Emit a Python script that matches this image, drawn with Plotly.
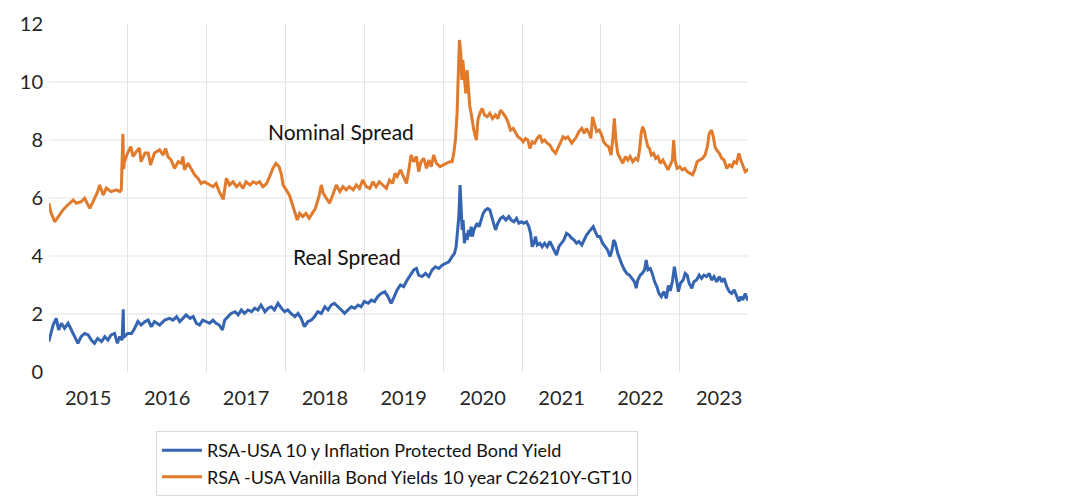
import plotly.graph_objects as go
import pandas as pd

# readings taken off the chart, time in decimal years
real_t = [2015.00, 2015.025, 2015.055, 2015.095, 2015.125, 2015.16, 2015.20, 2015.245, 2015.285, 2015.33,
          2015.37, 2015.41, 2015.455, 2015.50, 2015.54, 2015.58, 2015.62, 2015.67, 2015.71, 2015.75,
          2015.79, 2015.835, 2015.87, 2015.90, 2015.93, 2015.945, 2015.95, 2015.96, 2016.00, 2016.05,
          2016.09, 2016.13, 2016.17, 2016.22, 2016.26, 2016.30, 2016.34, 2016.405, 2016.47, 2016.53,
          2016.575, 2016.62, 2016.66, 2016.70, 2016.74, 2016.79, 2016.83, 2016.87, 2016.91, 2016.95,
          2016.99, 2017.04, 2017.08, 2017.12, 2017.16, 2017.20, 2017.23, 2017.27, 2017.31, 2017.36,
          2017.40, 2017.44, 2017.48, 2017.525, 2017.57, 2017.61, 2017.65, 2017.69, 2017.74, 2017.78,
          2017.82, 2017.86, 2017.905, 2017.95, 2017.99, 2018.03, 2018.07, 2018.12, 2018.16, 2018.20,
          2018.24, 2018.285, 2018.33, 2018.37, 2018.41, 2018.455, 2018.50, 2018.54, 2018.58, 2018.62,
          2018.67, 2018.71, 2018.75, 2018.79, 2018.835, 2018.88, 2018.92, 2018.96, 2019.00, 2019.05,
          2019.09, 2019.13, 2019.17, 2019.215, 2019.26, 2019.30, 2019.34, 2019.38, 2019.417, 2019.459,
          2019.50, 2019.544, 2019.586, 2019.628, 2019.662, 2019.69, 2019.734, 2019.776, 2019.818, 2019.861,
          2019.903, 2019.945, 2019.987, 2020.03, 2020.072, 2020.114, 2020.144, 2020.165, 2020.186, 2020.199,
          2020.215, 2020.228, 2020.241, 2020.253, 2020.27, 2020.287, 2020.304, 2020.321, 2020.338, 2020.355,
          2020.372, 2020.389, 2020.41, 2020.431, 2020.456, 2020.482, 2020.507, 2020.537, 2020.566, 2020.591,
          2020.608, 2020.634, 2020.663, 2020.693, 2020.727, 2020.76, 2020.794, 2020.832, 2020.862, 2020.896,
          2020.929, 2020.959, 2020.993, 2021.022, 2021.056, 2021.086, 2021.107, 2021.128, 2021.149, 2021.17,
          2021.191, 2021.225, 2021.255, 2021.284, 2021.318, 2021.352, 2021.381, 2021.411, 2021.436, 2021.466,
          2021.496, 2021.529, 2021.563, 2021.596, 2021.63, 2021.66, 2021.69, 2021.72, 2021.757, 2021.787,
          2021.817, 2021.85, 2021.877, 2021.902, 2021.928, 2021.957, 2021.987, 2022.021, 2022.055, 2022.085,
          2022.115, 2022.14, 2022.162, 2022.183, 2022.213, 2022.243, 2022.268, 2022.298, 2022.328, 2022.362,
          2022.396, 2022.426, 2022.447, 2022.468, 2022.498, 2022.523, 2022.553, 2022.574, 2022.596, 2022.626,
          2022.651, 2022.681, 2022.71, 2022.736, 2022.766, 2022.796, 2022.83, 2022.855, 2022.88, 2022.906,
          2022.932, 2022.957, 2022.983, 2023.009, 2023.043, 2023.068, 2023.094, 2023.119, 2023.153, 2023.179,
          2023.213, 2023.247, 2023.277, 2023.306, 2023.34, 2023.374, 2023.404, 2023.434, 2023.468, 2023.502,
          2023.532, 2023.562, 2023.596, 2023.63, 2023.66, 2023.69, 2023.72, 2023.75, 2023.774, 2023.80,
          2023.83, 2023.86, 2023.885]
real_v = [1.05, 1.33, 1.62, 1.85, 1.45, 1.68, 1.51, 1.68, 1.45, 1.22,
          0.99, 1.22, 1.33, 1.28, 1.10, 0.99, 1.16, 1.05, 1.22, 1.10,
          1.28, 1.33, 0.99, 1.22, 1.10, 2.16, 1.20, 1.22, 1.33, 1.33,
          1.51, 1.74, 1.62, 1.74, 1.79, 1.56, 1.74, 1.62, 1.79, 1.85,
          1.79, 1.91, 1.74, 1.85, 1.97, 1.85, 1.91, 1.68, 1.62, 1.79,
          1.74, 1.68, 1.79, 1.68, 1.62, 1.45, 1.79, 1.91, 2.02, 2.08,
          1.97, 2.14, 2.02, 2.14, 2.08, 2.20, 2.14, 2.31, 2.08, 2.20,
          2.25, 2.14, 2.37, 2.20, 2.08, 2.14, 2.02, 1.91, 2.02, 1.85,
          1.56, 1.74, 1.79, 1.91, 2.08, 2.02, 2.25, 2.14, 2.31, 2.37,
          2.25, 2.14, 2.02, 2.14, 2.25, 2.20, 2.31, 2.25, 2.43, 2.37,
          2.48, 2.43, 2.60, 2.71, 2.77, 2.60, 2.37, 2.60, 2.83, 3.00,
          2.94, 3.17, 3.34, 3.52, 3.57, 3.34, 3.29, 3.40, 3.29, 3.52,
          3.63, 3.57, 3.68, 3.75, 3.80, 3.98, 4.09, 4.32, 4.90, 5.36,
          6.45, 5.59, 4.90, 5.24, 4.44, 4.78, 4.55, 4.90, 4.67, 5.01,
          4.67, 4.90, 5.01, 5.13, 5.01, 5.30, 5.47, 5.59, 5.64, 5.59,
          5.42, 5.13, 4.90, 5.13, 5.30, 5.36, 5.24, 5.36, 5.24, 5.18,
          5.30, 5.13, 5.18, 5.13, 5.18, 5.01, 4.78, 4.32, 4.44, 4.67,
          4.38, 4.44, 4.32, 4.44, 4.32, 4.50, 4.32, 4.15, 4.03, 4.32,
          4.44, 4.55, 4.78, 4.72, 4.61, 4.55, 4.44, 4.50, 4.38, 4.55,
          4.72, 4.84, 4.95, 5.01, 4.84, 4.67, 4.67, 4.44, 4.32, 4.20,
          3.98, 4.20, 4.55, 4.44, 4.09, 3.86, 3.69, 3.52, 3.40, 3.34,
          3.23, 3.11, 2.89, 3.17, 3.34, 3.40, 3.52, 3.86, 3.52, 3.57,
          3.40, 3.11, 2.94, 2.71, 2.60, 2.77, 2.54, 2.98, 2.80, 3.11,
          3.63, 3.17, 2.77, 3.06, 3.17, 3.40, 3.34, 3.06, 2.89, 3.11,
          3.17, 3.34, 3.23, 3.34, 3.29, 3.40, 3.17, 3.29, 3.11, 3.29,
          3.11, 3.23, 2.94, 2.77, 2.71, 2.83, 2.60, 2.43, 2.60, 2.48,
          2.71, 2.48, 2.60]

nominal_t = [2015.00, 2015.03, 2015.075, 2015.12, 2015.18, 2015.24, 2015.31, 2015.35, 2015.41, 2015.455,
             2015.52, 2015.56, 2015.62, 2015.645, 2015.69, 2015.73, 2015.79, 2015.86, 2015.90, 2015.92,
             2015.93, 2015.94, 2015.95, 2015.96, 2016.00, 2016.04, 2016.07, 2016.11, 2016.15, 2016.17,
             2016.22, 2016.26, 2016.29, 2016.34, 2016.405, 2016.45, 2016.48, 2016.51, 2016.55, 2016.595,
             2016.64, 2016.68, 2016.70, 2016.72, 2016.765, 2016.81, 2016.85, 2016.89, 2016.93, 2016.97,
             2017.04, 2017.08, 2017.12, 2017.16, 2017.21, 2017.25, 2017.29, 2017.335, 2017.38, 2017.42,
             2017.46, 2017.50, 2017.55, 2017.59, 2017.63, 2017.67, 2017.715, 2017.76, 2017.80, 2017.84,
             2017.88, 2017.92, 2017.95, 2017.97, 2018.01, 2018.05, 2018.09, 2018.12, 2018.15, 2018.18,
             2018.22, 2018.26, 2018.30, 2018.34, 2018.38, 2018.425, 2018.455, 2018.48, 2018.52, 2018.56,
             2018.60, 2018.645, 2018.69, 2018.73, 2018.77, 2018.81, 2018.86, 2018.90, 2018.94, 2018.98,
             2019.025, 2019.07, 2019.11, 2019.15, 2019.19, 2019.24, 2019.28, 2019.32, 2019.36, 2019.39,
             2019.417, 2019.459, 2019.50, 2019.535, 2019.565, 2019.594, 2019.628, 2019.662, 2019.69, 2019.72,
             2019.755, 2019.79, 2019.82, 2019.85, 2019.88, 2019.915, 2019.96, 2020.00, 2020.04, 2020.085,
             2020.114, 2020.135, 2020.156, 2020.177, 2020.194, 2020.207, 2020.224, 2020.237, 2020.249, 2020.27,
             2020.287, 2020.304, 2020.321, 2020.338, 2020.355, 2020.372, 2020.389, 2020.41, 2020.422, 2020.44,
             2020.465, 2020.494, 2020.524, 2020.558, 2020.59, 2020.625, 2020.663, 2020.693, 2020.727, 2020.76,
             2020.79, 2020.82, 2020.853, 2020.887, 2020.917, 2020.946, 2020.98, 2021.014, 2021.043, 2021.073,
             2021.098, 2021.128, 2021.158, 2021.19, 2021.225, 2021.255, 2021.284, 2021.318, 2021.352, 2021.386,
             2021.424, 2021.453, 2021.487, 2021.52, 2021.55, 2021.58, 2021.63, 2021.66, 2021.69, 2021.72,
             2021.757, 2021.787, 2021.817, 2021.85, 2021.872, 2021.894, 2021.915, 2021.945, 2021.979, 2022.009,
             2022.034, 2022.064, 2022.098, 2022.128, 2022.149, 2022.17, 2022.19, 2022.213, 2022.243, 2022.277,
             2022.31, 2022.34, 2022.37, 2022.404, 2022.438, 2022.468, 2022.49, 2022.51, 2022.53, 2022.553,
             2022.574, 2022.596, 2022.617, 2022.638, 2022.668, 2022.694, 2022.723, 2022.753, 2022.787, 2022.82,
             2022.851, 2022.88, 2022.906, 2022.923, 2022.94, 2022.966, 2023.00, 2023.034, 2023.064, 2023.094,
             2023.128, 2023.162, 2023.19, 2023.22, 2023.255, 2023.29, 2023.32, 2023.35, 2023.374, 2023.404,
             2023.426, 2023.447, 2023.468, 2023.502, 2023.532, 2023.562, 2023.596, 2023.63, 2023.66, 2023.69,
             2023.72, 2023.75, 2023.774, 2023.80, 2023.83, 2023.86, 2023.885]
nominal_v = [5.82, 5.48, 5.18, 5.36, 5.59, 5.76, 5.93, 5.82, 5.87, 5.99,
             5.64, 5.87, 6.22, 6.45, 6.10, 6.34, 6.22, 6.28, 6.22, 6.28,
             6.97, 8.21, 7.00, 7.25, 7.55, 7.77, 7.43, 7.60, 7.72, 7.25,
             7.55, 7.55, 7.14, 7.55, 7.66, 7.48, 7.71, 7.43, 7.31, 7.02,
             7.25, 7.20, 7.43, 6.97, 7.20, 6.97, 6.79, 6.68, 6.50, 6.56,
             6.45, 6.39, 6.50, 6.22, 5.95, 6.68, 6.45, 6.56, 6.39, 6.50,
             6.33, 6.56, 6.45, 6.56, 6.50, 6.56, 6.39, 6.50, 6.74, 7.02,
             7.19, 7.08, 6.79, 6.45, 6.28, 6.10, 5.76, 5.47, 5.24, 5.47,
             5.36, 5.47, 5.30, 5.47, 5.64, 6.05, 6.45, 6.16, 5.99, 5.82,
             6.10, 6.45, 6.22, 6.39, 6.28, 6.39, 6.28, 6.45, 6.33, 6.62,
             6.39, 6.33, 6.56, 6.39, 6.56, 6.45, 6.33, 6.62, 6.50, 6.85,
             6.74, 6.97, 6.68, 6.50, 6.97, 7.48, 7.25, 7.43, 6.91, 7.25,
             7.37, 7.02, 7.31, 7.08, 7.48, 7.20, 7.08, 7.14, 7.20, 7.25,
             7.25, 7.54, 8.00, 8.92, 10.41, 11.45, 10.99, 10.07, 10.76, 10.07,
             9.61, 10.41, 9.72, 9.15, 8.92, 8.58, 8.34, 8.11, 8.00, 8.69,
             8.92, 9.09, 8.86, 8.80, 8.92, 8.74, 8.86, 8.74, 9.03, 8.92,
             8.80, 8.63, 8.34, 8.40, 8.23, 8.11, 8.05, 7.94, 8.05, 8.00,
             7.71, 7.94, 7.89, 8.05, 8.17, 7.94, 8.00, 7.89, 7.83, 7.66,
             7.54, 7.71, 7.94, 8.11, 8.05, 8.11, 7.89, 8.00, 8.11, 8.29,
             8.40, 8.23, 8.40, 8.23, 8.06, 8.80, 8.57, 8.29, 8.34, 8.17,
             7.94, 7.83, 7.77, 7.48, 8.00, 8.75, 8.00, 7.54, 7.37, 7.20,
             7.43, 7.31, 7.43, 7.25, 7.37, 7.31, 7.66, 8.23, 8.46, 8.29,
             8.00, 7.77, 7.71, 7.48, 7.54, 7.37, 7.43, 7.20, 7.31, 7.14,
             6.97, 7.14, 7.31, 8.00, 7.31, 7.02, 7.08, 6.97, 7.02, 6.91,
             6.85, 6.80, 6.97, 7.25, 7.31, 7.37, 7.48, 7.77, 8.23, 8.34,
             8.11, 7.77, 7.66, 7.54, 7.37, 7.31, 7.02, 7.14, 7.08, 7.25,
             7.20, 7.54, 7.31, 7.14, 6.91, 6.97, 7.02]

labels = ['RSA-USA 10 y Inflation Protected Bond Yield',
          'RSA -USA Vanilla Bond Yields 10 year C26210Y-GT10']
colors = ['#3564b0', '#e07a2c']
font_name = 'Lato, Open Sans, sans-serif'


def to_date(t):
    y = int(t)
    start = pd.Timestamp(y, 1, 1)
    days = (pd.Timestamp(y + 1, 1, 1) - start).days
    return start + pd.Timedelta(days=(t - y) * days)


real_x = [to_date(t) for t in real_t]
nominal_x = [to_date(t) for t in nominal_t]

fig = go.Figure()
fig.add_trace(go.Scatter(x=real_x, y=real_v, mode='lines', name=labels[0],
                         line=dict(color=colors[0], width=3)))
fig.add_trace(go.Scatter(x=nominal_x, y=nominal_v, mode='lines', name=labels[1],
                         line=dict(color=colors[1], width=3)))

# horizontal grid (no line at 0 and 12 in the original)
for v in range(2, 12, 2):
    fig.add_hline(y=v, line=dict(color='#e3e3e3', width=1), layer='below')

fig.add_annotation(x=to_date(2018.70), y=8.31, text='Nominal Spread', showarrow=False,
                   font=dict(size=21, color='#111111', family=font_name))
fig.add_annotation(x=to_date(2018.78), y=4.0, text='Real Spread', showarrow=False,
                   font=dict(size=21, color='#111111', family=font_name))

# page body adds 8px at top/left; bottom 8px falls outside the window
fig.update_layout(
    width=1080, height=500,
    margin=dict(l=41, r=340, t=16, b=136),
    plot_bgcolor='white', paper_bgcolor='white',
    font=dict(family=font_name, size=20, color='#262626'),
    showlegend=True,
    legend=dict(x=0.153, y=-0.17, xanchor='left', yanchor='top',
                bordercolor='#d9d9d9', borderwidth=1, bgcolor='white',
                itemwidth=40,
                font=dict(size=18, color='#111111'), tracegroupgap=0),
)
fig.update_xaxes(type='date', range=['2015-01-02', '2023-11-13'],
                 tick0='2015-01-01', dtick='M12', tickformat='%Y',
                 ticklabelmode='period', showgrid=True, gridcolor='#e3e3e3',
                 ticks='', showline=False, zeroline=False, ticklabelstandoff=12,
                 automargin=False)
fig.update_yaxes(range=[0, 12], dtick=2, showgrid=False, zeroline=False,
                 ticks='', showline=False, ticklabelstandoff=5, automargin=False)

fig.write_html("out.html")
